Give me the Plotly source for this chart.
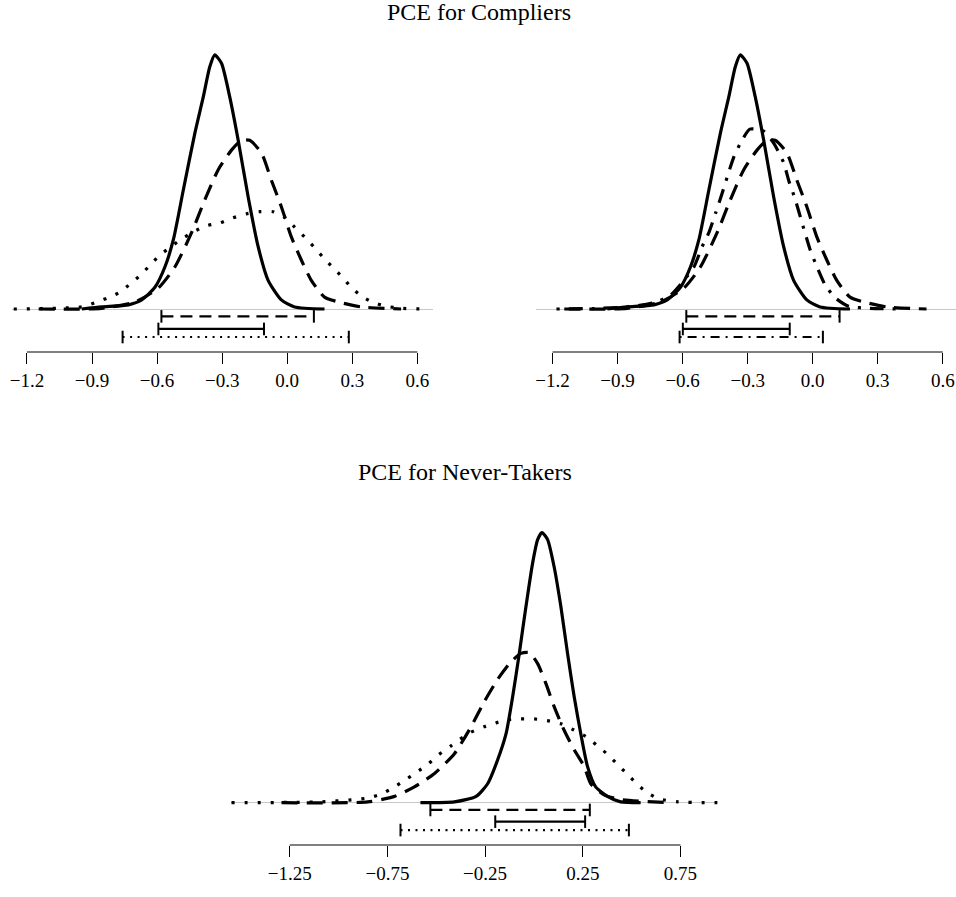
import plotly.graph_objects as go

# ---------------- data ----------------
# Compliers: solid curve (shared by both top panels)
comp_solid_x = [-0.947, -0.855, -0.732, -0.671, -0.610, -0.564, -0.525, -0.479, -0.426, -0.387,
                -0.357, -0.334, -0.303, -0.265, -0.226, -0.180, -0.134, -0.088, -0.027, 0.034, 0.172]
comp_solid_y = [0.0, 0.03, 0.06, 0.13, 0.31, 0.60, 0.99, 1.70, 2.51, 3.03,
                3.46, 3.63, 3.51, 3.03, 2.41, 1.60, 0.89, 0.41, 0.13, 0.03, 0.0]
# Compliers: dashed curve (shared by both top panels)
comp_dash_x = [-1.146, -0.855, -0.702, -0.594, -0.518, -0.441, -0.380, -0.318, -0.257, -0.211,
               -0.173, -0.119, -0.073, -0.027, 0.019, 0.065, 0.111, 0.172, 0.249, 0.341, 0.525]
comp_dash_y = [0.0, 0.01, 0.10, 0.30, 0.60, 1.09, 1.56, 1.99, 2.27, 2.41,
               2.41, 2.23, 1.84, 1.46, 1.03, 0.70, 0.41, 0.17, 0.09, 0.03, 0.0]
# Compliers: dotted curve (left panel)
comp_dot_x = [-1.261, -0.947, -0.886, -0.827, -0.771, -0.720, -0.674, -0.629, -0.587, -0.536,
              -0.487, -0.428, -0.372, -0.311, -0.252, -0.188, -0.127, -0.065, -0.008, 0.034,
              0.080, 0.122, 0.165, 0.208, 0.253, 0.295, 0.349, 0.400, 0.456, 0.525, 0.648]
comp_dot_y = [0.0, 0.03, 0.09, 0.16, 0.24, 0.37, 0.49, 0.64, 0.77, 0.89,
              1.00, 1.11, 1.19, 1.23, 1.30, 1.36, 1.39, 1.39, 1.30, 1.17,
              1.03, 0.89, 0.74, 0.60, 0.46, 0.31, 0.17, 0.09, 0.04, 0.01, 0.0]
# Compliers: dash-dot curve (right panel)
comp_dd_x = [-1.182, -0.978, -0.824, -0.732, -0.655, -0.594, -0.548, -0.510, -0.479, -0.448,
             -0.417, -0.394, -0.364, -0.333, -0.290, -0.226, -0.180, -0.134, -0.111, -0.080,
             -0.049, -0.011, 0.020, 0.058, 0.104, 0.165, 0.265, 0.403]
comp_dd_y = [0.0, 0.01, 0.04, 0.09, 0.20, 0.41, 0.60, 0.89, 1.09, 1.37,
             1.66, 1.89, 2.17, 2.37, 2.57, 2.54, 2.37, 2.09, 1.84, 1.56,
             1.23, 0.84, 0.60, 0.34, 0.16, 0.04, 0.01, 0.0]

# Never-takers
nt_solid_x = [-0.581, -0.407, -0.296, -0.237, -0.186, -0.143, -0.109, -0.075, -0.041, -0.007,
              0.019, 0.041, 0.070, 0.103, 0.138, 0.172, 0.206, 0.240, 0.274, 0.316, 0.376, 0.444, 0.546]
nt_solid_y = [0.0, 0.01, 0.08, 0.24, 0.54, 0.87, 1.34, 1.89, 2.48, 3.03,
              3.33, 3.42, 3.33, 2.99, 2.48, 1.89, 1.34, 0.87, 0.46, 0.20, 0.08, 0.01, 0.0]
nt_dash_x = [-1.292, -0.850, -0.714, -0.612, -0.509, -0.407, -0.322, -0.254, -0.186, -0.126,
             -0.067, -0.024, 0.019, 0.061, 0.103, 0.154, 0.206, 0.257, 0.291, 0.359, 0.444, 0.710]
nt_dash_y = [0.0, 0.01, 0.08, 0.20, 0.37, 0.62, 0.96, 1.28, 1.56, 1.76,
             1.89, 1.90, 1.76, 1.51, 1.22, 0.92, 0.67, 0.46, 0.24, 0.10, 0.04, 0.0]
nt_dot_x = [-1.548, -1.088, -0.920, -0.848, -0.782, -0.720, -0.664, -0.603, -0.542, -0.486,
            -0.424, -0.380, -0.324, -0.256, -0.196, -0.130, -0.067, 0.001, 0.068, 0.138,
            0.204, 0.265, 0.320, 0.373, 0.418, 0.470, 0.522, 0.572, 0.638, 0.738, 0.940]
nt_dot_y = [0.0, 0.01, 0.04, 0.06, 0.11, 0.19, 0.28, 0.38, 0.49, 0.61,
            0.72, 0.80, 0.89, 0.96, 1.01, 1.05, 1.06, 1.06, 1.04, 1.00,
            0.92, 0.84, 0.73, 0.62, 0.51, 0.38, 0.25, 0.14, 0.05, 0.01, 0.0]

# Intervals (lower, upper)
left_intervals = {"dash": (-0.580, 0.123), "solid": (-0.594, -0.107), "dot": (-0.759, 0.284)}
right_intervals = {"dash": (-0.583, 0.124), "solid": (-0.599, -0.106), "dashdot": (-0.614, 0.047)}
bottom_intervals = {"dash": (-0.530, 0.286), "solid": (-0.198, 0.262), "dot": (-0.683, 0.486)}

top_ticks = [-1.2, -0.9, -0.6, -0.3, 0.0, 0.3, 0.6]
top_tick_text = ["\u22121.2", "\u22120.9", "\u22120.6", "\u22120.3", "0.0", "0.3", "0.6"]
bottom_ticks = [-1.25, -0.75, -0.25, 0.25, 0.75]
bottom_tick_text = ["\u22121.25", "\u22120.75", "\u22120.25", "0.25", "0.75"]

title_top = "PCE for Compliers"
title_bottom = "PCE for Never-Takers"

# ---------------- styles / layout ----------------
W, H = 956, 897
CURVE_W = 3.2
INT_W = 2.2
curve_dash = {"solid": "solid", "dash": "16px,9px", "dot": "3px,10px", "dashdot": "3px,9px,14px,9px"}
int_dash = {"solid": "solid", "dash": "12px,7px", "dot": "2px,5.5px", "dashdot": "2px,6px,9px,6px"}


def fx(p):
    return p / W


def fy(p):
    return 1 - p / H


fig = go.Figure()


def curve(x, y, style, ax):
    fig.add_trace(go.Scatter(x=x, y=y, mode="lines", xaxis="x" + ax, yaxis="y" + ax,
                             line=dict(color="black", width=CURVE_W, dash=curve_dash[style],
                                       shape="spline", smoothing=0.6),
                             showlegend=False, hoverinfo="skip"))


def interval(lo_hi, level, style, ax):
    lo, hi = lo_hi
    fig.add_trace(go.Scatter(x=[lo, hi], y=[level, level], mode="lines+markers",
                             xaxis="x" + ax, yaxis="y" + ax,
                             line=dict(color="black", width=INT_W, dash=int_dash[style]),
                             marker=dict(symbol="line-ns", size=9,
                                         line=dict(color="black", width=2)),
                             showlegend=False, hoverinfo="skip", cliponaxis=False))


# top-left
curve(comp_dot_x, comp_dot_y, "dot", "")
curve(comp_dash_x, comp_dash_y, "dash", "")
curve(comp_solid_x, comp_solid_y, "solid", "")
# top-right
curve(comp_dd_x, comp_dd_y, "dashdot", "2")
curve(comp_dash_x, comp_dash_y, "dash", "2")
curve(comp_solid_x, comp_solid_y, "solid", "2")
# bottom
curve(nt_dot_x, nt_dot_y, "dot", "3")
curve(nt_dash_x, nt_dash_y, "dash", "3")
curve(nt_solid_x, nt_solid_y, "solid", "3")

top_levels = [-0.105, -0.285, -0.40]
interval(left_intervals["dash"], top_levels[0], "dash", "")
interval(left_intervals["solid"], top_levels[1], "solid", "")
interval(left_intervals["dot"], top_levels[2], "dot", "")
interval(right_intervals["dash"], top_levels[0], "dash", "2")
interval(right_intervals["solid"], top_levels[1], "solid", "2")
interval(right_intervals["dashdot"], top_levels[2], "dashdot", "2")
bot_levels = [-0.092, -0.24, -0.346]
interval(bottom_intervals["dash"], bot_levels[0], "dash", "3")
interval(bottom_intervals["solid"], bot_levels[1], "solid", "3")
interval(bottom_intervals["dot"], bot_levels[2], "dot", "3")

tick_font = dict(family="Liberation Serif, DejaVu Serif, serif", size=19, color="black")


def xaxis_cfg(dom_px, rng, ticks, text, anchor):
    return dict(domain=[fx(dom_px[0]), min(1.0, fx(dom_px[1]))], range=rng, showgrid=False,
                zeroline=False, showline=False, ticks="outside", ticklen=11, tickwidth=1,
                tickcolor="black", tickvals=ticks, ticktext=text, tickfont=tick_font,
                ticklabeloverflow="allow", fixedrange=True, anchor=anchor)


def yaxis_cfg(dom_px, rng, anchor):
    return dict(domain=[fy(dom_px[1]), fy(dom_px[0])], range=rng, showgrid=False,
                zeroline=True, zerolinecolor="#c8c8c8", zerolinewidth=1, showticklabels=False,
                ticks="", showline=False, anchor=anchor, fixedrange=True)


fig.update_layout(
    width=W, height=H, margin=dict(l=0, r=0, t=0, b=0),
    paper_bgcolor="white", plot_bgcolor="white",
    xaxis=xaxis_cfg((10, 432), [-1.269, 0.6726], top_ticks, top_tick_text, "y"),
    yaxis=yaxis_cfg((40, 352), [-0.614, 3.843], "x"),
    xaxis2=xaxis_cfg((535, 956), [-1.2769, 0.661], top_ticks, top_tick_text, "y2"),
    yaxis2=yaxis_cfg((40, 352), [-0.614, 3.843], "x2"),
    xaxis3=xaxis_cfg((229, 717), [-1.5529, 0.9395], bottom_ticks, bottom_tick_text, "y3"),
    yaxis3=yaxis_cfg((515, 845), [-0.5354, 3.642], "x3"),
)

# axis line segments spanning first to last tick (R style)
for ax, ticks in (("x", top_ticks), ("x2", top_ticks), ("x3", bottom_ticks)):
    yname = "y" if ax == "x" else "y" + ax[1:]
    fig.add_shape(type="line", xref=ax, yref=yname + " domain", x0=ticks[0], x1=ticks[-1],
                  y0=0, y1=0, line=dict(color="black", width=1))

title_font = dict(family="Liberation Serif, DejaVu Serif, serif", size=24, color="black")
fig.add_annotation(text=title_top, x=fx(478), y=fy(12), xref="paper", yref="paper",
                   showarrow=False, font=title_font, xanchor="center", yanchor="middle")
fig.add_annotation(text=title_bottom, x=fx(464), y=fy(472), xref="paper", yref="paper",
                   showarrow=False, font=title_font, xanchor="center", yanchor="middle")

fig.write_html("out.html", config={"displayModeBar": False},
               post_script="document.body.style.margin='0px';document.body.style.overflow='hidden';")
